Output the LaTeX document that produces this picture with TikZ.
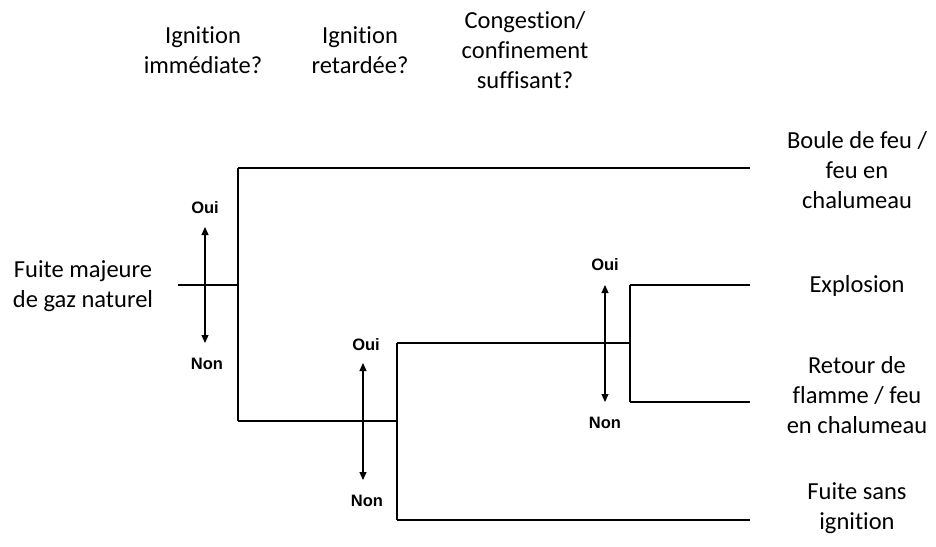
\documentclass[tikz,border=0pt]{standalone}
\usepackage{fontspec}
\setmainfont{Carlito}[Ligatures=NoCommon]
\newfontfamily\arialfont{Liberation Sans}
\usetikzlibrary{arrows.meta}
\begin{document}
\begin{tikzpicture}[x=1pt,y=-1pt,
  lbl/.style={align=center,font=\fontsize{24.5}{30}\selectfont,inner sep=0pt},
  yn/.style={font=\arialfont\bfseries\fontsize{16.5}{19}\selectfont,inner sep=0pt},
  br/.style={line width=1.1pt},
  dbl/.style={line width=1.1pt,{Triangle[length=8pt,width=7pt]}-{Triangle[length=8pt,width=7pt]}}]
\useasboundingbox (0,0) rectangle (936,546);
% headers
\node[lbl] (h1) at (203,50) {Ignition\\immédiate?};
\node[lbl] (h2) at (360,50) {Ignition\\retardée?};
\node[lbl] (h3) at (525,50) {Congestion/\\confinement\\suffisant?};
% root
\node[lbl] (root) at (83,286) {Fuite majeure\\de gaz naturel};
% outcomes
\node[lbl] (o1) at (857,170) {Boule de feu /\\feu en\\chalumeau};
\node[lbl] (o2) at (857,286) {Explosion};
\node[lbl] (o3) at (857,395) {Retour de\\flamme / feu\\en chalumeau};
\node[lbl] (o4) at (857,508) {Fuite sans\\ignition};
% junction coordinates
\coordinate (s0) at (178,285);
\coordinate (j1) at (238,285);
\coordinate (j1t) at (238,168);
\coordinate (j1b) at (238,421);
\coordinate (j2) at (397,421);
\coordinate (j2t) at (397,343);
\coordinate (j2b) at (397,520);
\coordinate (j3) at (630,343);
\coordinate (j3t) at (630,285);
\coordinate (j3b) at (630,402);
\coordinate (e1) at (750,168);
\coordinate (e2) at (750,285);
\coordinate (e3) at (750,402);
\coordinate (e4) at (750,520);
% tree
\draw[br] (s0) -- (j1);
\draw[br] (j1t) -- (j1b);
\draw[br] (j1t) -- (e1);
\draw[br] (j1b) -- (j2);
\draw[br] (j2t) -- (j2b);
\draw[br] (j2t) -- (j3);
\draw[br] (j2b) -- (e4);
\draw[br] (j3t) -- (j3b);
\draw[br] (j3t) -- (e2);
\draw[br] (j3b) -- (e3);
% yes/no arrows
\node[yn] (oui1) at (205,208) {Oui};
\node[yn] (non1) at (207,364) {Non};
\coordinate (a1t) at (205,227);
\coordinate (a1b) at (205,343);
\draw[dbl] (a1t) -- (a1b);
\node[yn] (oui2) at (366,345) {Oui};
\node[yn] (non2) at (367,501) {Non};
\coordinate (a2t) at (363,363);
\coordinate (a2b) at (363,480);
\draw[dbl] (a2t) -- (a2b);
\node[yn] (oui3) at (605,265) {Oui};
\node[yn] (non3) at (605,423) {Non};
\coordinate (a3t) at (605,285);
\coordinate (a3b) at (605,402);
\draw[dbl] (a3t) -- (a3b);
\end{tikzpicture}
\end{document}
